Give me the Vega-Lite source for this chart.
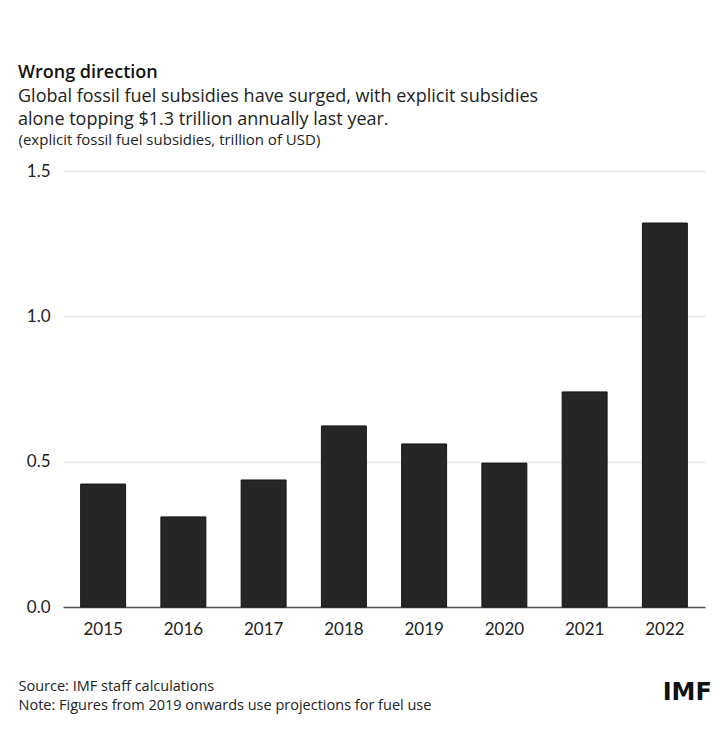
{
  "$schema": "https://vega.github.io/schema/vega-lite/v6.json",
  "autosize": {"type": "none"},
  "width": 642,
  "height": 436,
  "padding": {"left": 63, "top": 171, "right": 18, "bottom": 125},
  "background": "white",
  "title": {
    "text": "Wrong direction",
    "subtitle": ["Global fossil fuel subsidies have surged, with explicit subsidies", "alone topping $1.3 trillion annually last year."],
    "anchor": "start",
    "frame": "group",
    "dx": -45,
    "offset": 3,
    "font": "Open Sans",
    "fontSize": 18,
    "fontWeight": 600,
    "color": "#111111",
    "subtitleFont": "Open Sans",
    "subtitleFontSize": 18,
    "subtitleColor": "#222222",
    "subtitleLineHeight": 23,
    "subtitlePadding": 6
  },
  "datasets": {
    "subsidies": [
      {"year": "2015", "value": 0.423},
      {"year": "2016", "value": 0.31},
      {"year": "2017", "value": 0.437},
      {"year": "2018", "value": 0.623},
      {"year": "2019", "value": 0.561},
      {"year": "2020", "value": 0.495},
      {"year": "2021", "value": 0.74},
      {"year": "2022", "value": 1.321}
    ],
    "brand": [{"name": "IMF"}]
  },
  "layer": [
    {
      "data": {"name": "subsidies"},
      "mark": {"type": "bar", "color": "#262626", "stroke": "#151515", "strokeWidth": 1},
      "encoding": {
        "x": {
          "field": "year",
          "type": "nominal",
          "scale": {"paddingInner": 0.44, "paddingOuter": 0.22},
          "axis": {
            "labelAngle": 0,
            "labelFont": "Lato",
            "labelFontSize": 17,
            "labelColor": "#222222",
            "labelPadding": 14,
            "ticks": false,
            "domainColor": "#555555",
            "domainWidth": 1.5,
            "title": ["Source: IMF staff calculations", "Note: Figures from 2019 onwards use projections for fuel use"],
            "titleFont": "Open Sans",
            "titleFontSize": 14.5,
            "titleFontWeight": "normal",
            "titleColor": "#222222",
            "titleAnchor": "start",
            "titleAlign": "left",
            "titleBaseline": "top",
            "titleX": -45,
            "titleY": 72,
            "titleLineHeight": 19
          }
        },
        "y": {
          "field": "value",
          "type": "quantitative",
          "scale": {"domain": [0, 1.5], "nice": false, "zero": true},
          "axis": {
            "values": [0, 0.5, 1, 1.5],
            "format": ".1f",
            "labelFont": "Lato",
            "labelFontSize": 17,
            "labelColor": "#222222",
            "labelPadding": 13,
            "ticks": false,
            "domain": false,
            "gridColor": "#e6e6e6",
            "gridWidth": 1.5,
            "title": "(explicit fossil fuel subsidies, trillion of USD)",
            "titleFont": "Open Sans",
            "titleFontSize": 15,
            "titleFontWeight": "normal",
            "titleColor": "#222222",
            "titleAngle": 0,
            "titleAlign": "left",
            "titleBaseline": "middle",
            "titleX": -45,
            "titleY": -32
          }
        }
      }
    },
    {
      "data": {"name": "brand"},
      "mark": {"type": "text", "font": "DejaVu Sans", "fontSize": 24, "fontWeight": "bold", "color": "#111111", "align": "right", "baseline": "middle", "dx": 47, "dy": 86},
      "encoding": {
        "x": {"datum": "2022", "type": "nominal"},
        "y": {"datum": 0, "type": "quantitative", "scale": {"domain": [0, 1.5], "nice": false}},
        "text": {"field": "name"}
      }
    }
  ],
  "config": {"view": {"stroke": null}}
}
